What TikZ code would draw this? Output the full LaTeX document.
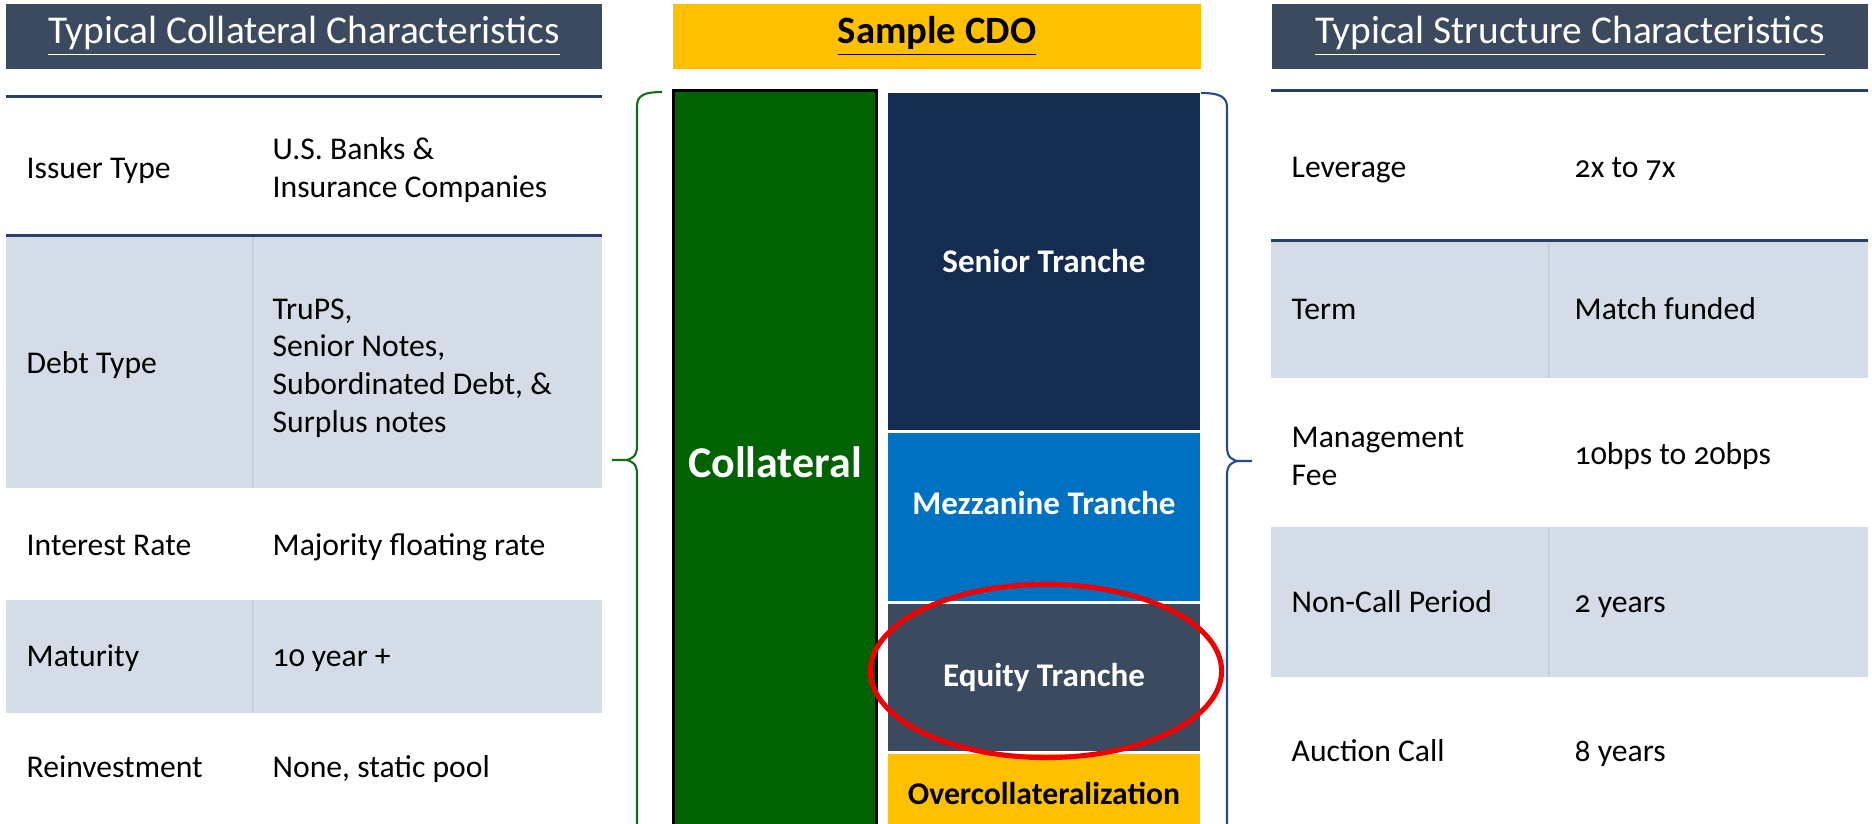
\documentclass[tikz,border=0pt]{standalone}
\usepackage{fontspec}
\setmainfont{Carlito}[Numbers=OldStyle]
\usepackage{xcolor}
\usepackage{tikz}
\usetikzlibrary{shapes,positioning}

\definecolor{hdrslate}{RGB}{59,74,94}
\definecolor{seniorblue}{RGB}{21,44,81}
\definecolor{mezzblue}{RGB}{0,112,192}
\definecolor{cdoyellow}{RGB}{255,192,0}
\definecolor{collgreen}{RGB}{0,98,0}
\definecolor{rulenavy}{RGB}{38,64,106}
\definecolor{shadegray}{RGB}{212,220,231}
\definecolor{shadediv}{RGB}{198,207,221}
\definecolor{bracegreen}{RGB}{20,110,20}
\definecolor{braceblue}{RGB}{40,75,135}
\definecolor{ringred}{RGB}{240,0,0}

\begin{document}
\begin{tikzpicture}[
    x=0.01cm, y=-0.01cm,
    header/.style={rectangle, fill=hdrslate, text=white, minimum width=5.96cm, minimum height=0.65cm, inner sep=0pt, font=\fontsize{11.2}{13}\selectfont},
    cell/.style={anchor=west, inner sep=0pt, align=left, font=\fontsize{9}{10.7}\selectfont, execute at begin node=\strut},
    shade/.style={fill=shadegray},
    rowrule/.style={draw=rulenavy, line width=0.85pt},
    tranche/.style={rectangle, minimum width=3.12cm, inner sep=0pt, text=white, font=\fontsize{9.4}{11}\selectfont\bfseries},
    bracket/.style={line width=0.6pt, line join=round}
]
    \useasboundingbox (0,0) rectangle (1872,823);
    \clip (0,0) rectangle (1872,823);

    % Headers
    \node[header] (collhdr) at (304,36.5) {\underline{Typical Collateral Characteristics}};
    \node[header, fill=cdoyellow, text=black, minimum width=5.28cm, font=\fontsize{11}{13}\selectfont\bfseries] (cdohdr) at (937,36.5) {\underline{Sample CDO}};
    \node[header] (structhdr) at (1570,36.5) {\underline{Typical Structure Characteristics}};

    % Shaded rows
    \fill[shade] (6,235) rectangle (602,488);
    \fill[shade] (6,600) rectangle (602,713);
    \fill[shade] (1271,240) rectangle (1868,378);
    \fill[shade] (1271,527) rectangle (1868,677);
    \draw[shadediv, line width=0.3pt] (253,235) -- (253,488);
    \draw[shadediv, line width=0.3pt] (253,600) -- (253,713);
    \draw[shadediv, line width=0.3pt] (1549,240) -- (1549,378);
    \draw[shadediv, line width=0.3pt] (1549,527) -- (1549,677);
    \draw[rowrule] (6,96) -- (602,96);
    \draw[rowrule] (6,235) -- (602,235);
    \draw[rowrule] (1271,90) -- (1868,90);
    \draw[rowrule] (1271,240) -- (1868,240);

    % Collateral table
    \node[cell] (issuerlbl) at (26,171) {Issuer Type};
    \node[cell] (issuerval) at (272,173) {U.S. Banks \&\\Insurance Companies};
    \node[cell] (debtlbl) at (26,366) {Debt Type};
    \node[cell] (debtval) at (272,371) {TruPS,\\Senior Notes,\\Subordinated Debt, \&\\Surplus notes};
    \node[cell] (ratelbl) at (26,548) {Interest Rate};
    \node[cell] (rateval) at (272,548) {Majority floating rate};
    \node[cell] (maturlbl) at (26,659) {Maturity};
    \node[cell] (maturval) at (272,659) {10 year +};
    \node[cell] (reinvlbl) at (26,770) {Reinvestment};
    \node[cell] (reinvval) at (272,770) {None, static pool};

    % Structure table
    \node[cell] (levlbl) at (1291,170) {Leverage};
    \node[cell] (levval) at (1574,170) {2x to 7x};
    \node[cell] (termlbl) at (1291,312) {Term};
    \node[cell] (termval) at (1574,312) {Match funded};
    \node[cell] (feelbl) at (1291,462) {Management\\Fee};
    \node[cell] (feeval) at (1574,457) {10bps to 20bps};
    \node[cell] (noncalllbl) at (1291,605) {Non-Call Period};
    \node[cell] (noncallval) at (1574,605) {2 years};
    \node[cell] (auctlbl) at (1291,754) {Auction Call};
    \node[cell] (auctval) at (1574,754) {8 years};

    % Sample CDO
    \node[rectangle, draw=black, line width=0.9pt, fill=collgreen, text=white, minimum width=2.03cm, minimum height=7.42cm, font=\fontsize{12.5}{14}\selectfont\bfseries] (collat) at (775,462) {Collateral};
    \node[tranche, fill=seniorblue, minimum height=3.37cm] (senior) at (1044,261.5) {Senior Tranche};
    \node[tranche, fill=mezzblue, minimum height=1.68cm, text height=0.24cm, text depth=0.30cm] (mezz) at (1044,517) {Mezzanine Tranche};
    \node[tranche, fill=hdrslate, minimum height=1.47cm] (equity) at (1044,677.5) {Equity Tranche};
    \node[tranche, fill=cdoyellow, text=black, minimum height=0.78cm, font=\fontsize{9}{11}\selectfont\bfseries] (overcoll) at (1044,793) {Overcollateralization};
    \node[ellipse, draw=ringred, line width=1.45pt, minimum width=3.51cm, minimum height=1.73cm] (ring) at (1046,671) {};

    % Braces
    \coordinate (lbtop) at (662,92);
    \coordinate (lbtip) at (612,460);
    \coordinate (rbtop) at (1201,93);
    \coordinate (rbtip) at (1252,461);
    \draw[bracket, draw=bracegreen] (lbtop) .. controls (645,92) and (637,95) .. (637,106) -- (637,446)
        .. controls (637,456) and (632,460) .. (624,460) -- (lbtip);
    \draw[bracket, draw=bracegreen] (624,460) .. controls (632,460) and (637,464) .. (637,474) -- (637,840);
    \draw[bracket, draw=braceblue] (rbtop) .. controls (1218,93) and (1227,96) .. (1227,107) -- (1227,447)
        .. controls (1227,457) and (1232,461) .. (1240,461) -- (rbtip);
    \draw[bracket, draw=braceblue] (1240,461) .. controls (1232,461) and (1227,465) .. (1227,475) -- (1227,840);
\end{tikzpicture}
\end{document}
